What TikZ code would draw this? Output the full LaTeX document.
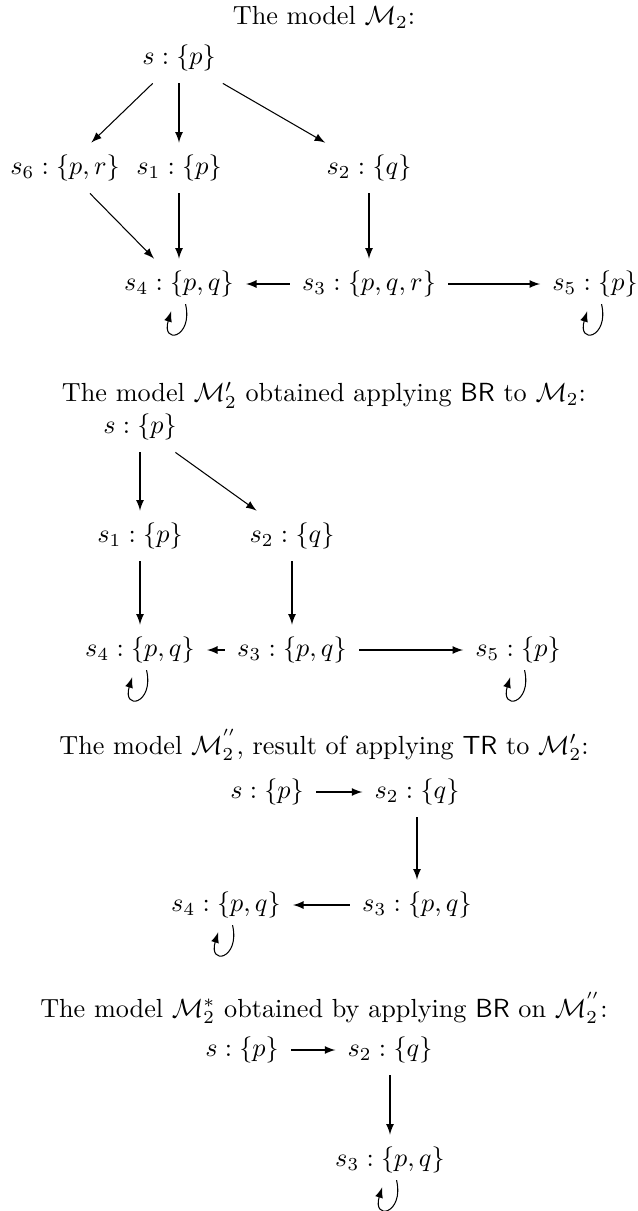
\documentclass[tikz,border=0pt]{standalone}
\usepackage{amsmath}
\newcommand{\selfloop}[1]{\draw[->] ([xshift=2.5pt,yshift=2pt]#1.south) .. controls +(3pt,-13pt) and +(-4pt,-13pt) .. ([xshift=-3pt,yshift=-0.7pt]#1.south);}
\begin{document}
\begin{tikzpicture}[x=0.3817pt,y=-0.3817pt,>=latex,every node/.style={inner sep=4.5pt},
  title/.style={inner sep=1pt}]
\useasboundingbox (0,0) rectangle (638,1211);
% the model M_2
\node[title] (t1) at (324,17) {The model $\mathcal{M}_2$:};
\node (a) at (179,58) {$s:\{p\}$};
\node (a6) at (65,168) {$s_6:\{p,r\}$};
\node (a1) at (179,168) {$s_1:\{p\}$};
\node (a2) at (369,168) {$s_2:\{q\}$};
\node (a4) at (179,284) {$s_4:\{p,q\}$};
\node (a3) at (369,284) {$s_3:\{p,q,r\}$};
\node (a5) at (595,284) {$s_5:\{p\}$};
\draw[->] (a) -- (a6);
\draw[->] (a) -- (a1);
\draw[->] (a) -- (a2);
\draw[->] (a6) -- (a4);
\draw[->] (a1) -- (a4);
\draw[->] (a2) -- (a3);
\draw[->] (a3) -- (a4);
\draw[->] (a3) -- (a5);
\selfloop{a4}
\selfloop{a5}
% after BR
\node[title] (t2) at (324,395) {The model $\mathcal{M}'_2$ obtained applying \textsf{BR} to $\mathcal{M}_2$:};
\node (b) at (140,427) {$s:\{p\}$};
\node (b1) at (140,536) {$s_1:\{p\}$};
\node (b2) at (292,536) {$s_2:\{q\}$};
\node (b4) at (140,650) {$s_4:\{p,q\}$};
\node (b3) at (292,650) {$s_3:\{p,q\}$};
\node (b5) at (518,650) {$s_5:\{p\}$};
\draw[->] (b) -- (b1);
\draw[->] (b) -- (b2);
\draw[->] (b1) -- (b4);
\draw[->] (b2) -- (b3);
\draw[->] (b3) -- (b4);
\draw[->] (b3) -- (b5);
\selfloop{b4}
\selfloop{b5}
% after TR
\node[title] (t3) at (324,745) {The model $\mathcal{M}_2^{''}$, result of applying \textsf{TR} to $\mathcal{M}'_2$:};
\node (c) at (267,792) {$s:\{p\}$};
\node (c2) at (417,792) {$s_2:\{q\}$};
\node (c4) at (226,905) {$s_4:\{p,q\}$};
\node (c3) at (417,905) {$s_3:\{p,q\}$};
\draw[->] (c) -- (c2);
\draw[->] (c2) -- (c3);
\draw[->] (c3) -- (c4);
\selfloop{c4}
% M_2^*
\node[title] (t4) at (324,1008) {The model $\mathcal{M}^{*}_2$ obtained by applying \textsf{BR} on $\mathcal{M}_2^{''}$:};
\node (d) at (242,1050) {$s:\{p\}$};
\node (d2) at (390,1050) {$s_2:\{q\}$};
\node (d3) at (390,1160) {$s_3:\{p,q\}$};
\draw[->] (d) -- (d2);
\draw[->] (d2) -- (d3);
\selfloop{d3}
\end{tikzpicture}
\end{document}
